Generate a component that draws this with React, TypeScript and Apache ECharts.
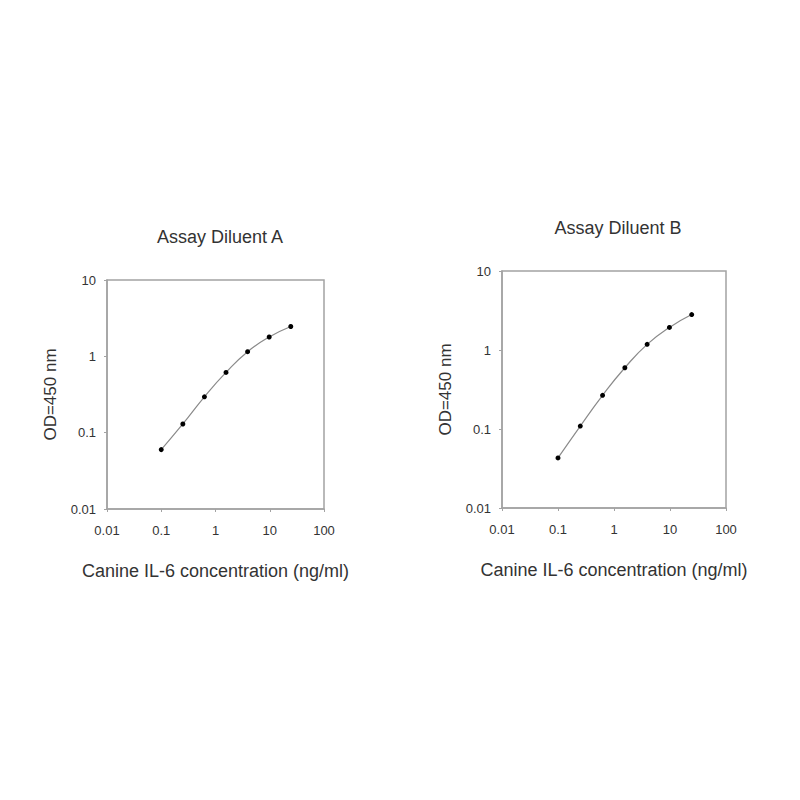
import React, { useRef, useEffect } from 'react'
import * as echarts from 'echarts'

// concentrations (ng/ml), shared by both panels
const concentrations = [0.1, 0.25, 0.625, 1.5625, 3.906, 9.766, 24.41]
// OD 450 nm readings
const odDiluentA = [0.06, 0.13, 0.295, 0.615, 1.15, 1.79, 2.46]
const odDiluentB = [0.043, 0.109, 0.267, 0.596, 1.18, 1.93, 2.81]

const panelTitles = ['Assay Diluent A', 'Assay Diluent B']
const xAxisName = 'Canine IL-6 concentration (ng/ml)'
const yAxisName = 'OD=450 nm'
const xTickLabels = ['0.01', '0.1', '1', '10', '100']
const yTickLabels = ['0.01', '0.1', '1', '10']

const FONT = '"Liberation Sans", Arial, sans-serif'
const AXIS_COLOR = '#a3a3a3'
const LABEL_COLOR = '#333'

const App: React.FC = () => {
  const chartRef = useRef<HTMLDivElement>(null)

  useEffect(() => {
    if (!chartRef.current) return
    const chart = echarts.init(chartRef.current, undefined, { renderer: 'svg' })

    const grids = [
      { left: 107, top: 280, width: 217, height: 229 },
      { left: 502, top: 271, width: 224, height: 237 },
    ]
    const titlePos = [
      { left: 215, top: 223 },
      { left: 613, top: 214 },
    ]

    const axisBase = {
      type: 'log' as const,
      logBase: 10,
      axisLine: { show: true, lineStyle: { color: AXIS_COLOR, width: 1.5 } },
      axisTick: { show: true, length: 3, lineStyle: { color: AXIS_COLOR } },
      splitLine: { show: false },
      minorTick: { show: false },
    }

    const option: any = {
      animation: false,
      backgroundColor: '#fff',
      textStyle: { fontFamily: FONT },
      title: panelTitles.map((t, i) => ({
        text: t,
        ...titlePos[i],
        textAlign: 'center',
        textStyle: { fontSize: 18, fontWeight: 'normal', color: LABEL_COLOR, fontFamily: FONT },
      })),
      grid: grids.map(g => ({
        ...g,
        show: true,
        borderColor: AXIS_COLOR,
        borderWidth: 1.5,
        backgroundColor: 'transparent',
      })),
      xAxis: grids.map((_, i) => ({
        ...axisBase,
        gridIndex: i,
        min: 0.01,
        max: 100,
        name: xAxisName,
        nameLocation: 'middle',
        nameGap: 53,
        nameTextStyle: { fontSize: 18, color: LABEL_COLOR, fontFamily: FONT },
        axisLabel: {
          fontSize: 13,
          color: LABEL_COLOR,
          margin: 15,
          fontFamily: FONT,
          formatter: (_v: number, idx: number) => xTickLabels[idx] ?? '',
        },
      })),
      yAxis: grids.map((_, i) => ({
        ...axisBase,
        gridIndex: i,
        min: 0.01,
        max: 10,
        name: yAxisName,
        nameLocation: 'middle',
        nameGap: 48,
        nameTextStyle: { fontSize: 17, color: LABEL_COLOR, fontFamily: FONT },
        axisLabel: {
          fontSize: 13,
          color: LABEL_COLOR,
          margin: 11,
          fontFamily: FONT,
          formatter: (_v: number, idx: number) => yTickLabels[idx] ?? '',
        },
      })),
      series: [odDiluentA, odDiluentB].map((values, i) => ({
        type: 'line',
        xAxisIndex: i,
        yAxisIndex: i,
        data: concentrations.map((c, j) => [c, values[j]]),
        smooth: true,
        symbol: 'circle',
        symbolSize: 5,
        lineStyle: { color: '#8a8a8a', width: 1.2 },
        itemStyle: { color: '#000' },
      })),
    }

    chart.setOption(option)
    return () => {
      chart.dispose()
    }
  }, [])

  return (
    <div
      ref={chartRef}
      style={{ position: 'absolute', left: 0, top: 0, width: '800px', height: '800px' }}
    />
  )
}

export default App
